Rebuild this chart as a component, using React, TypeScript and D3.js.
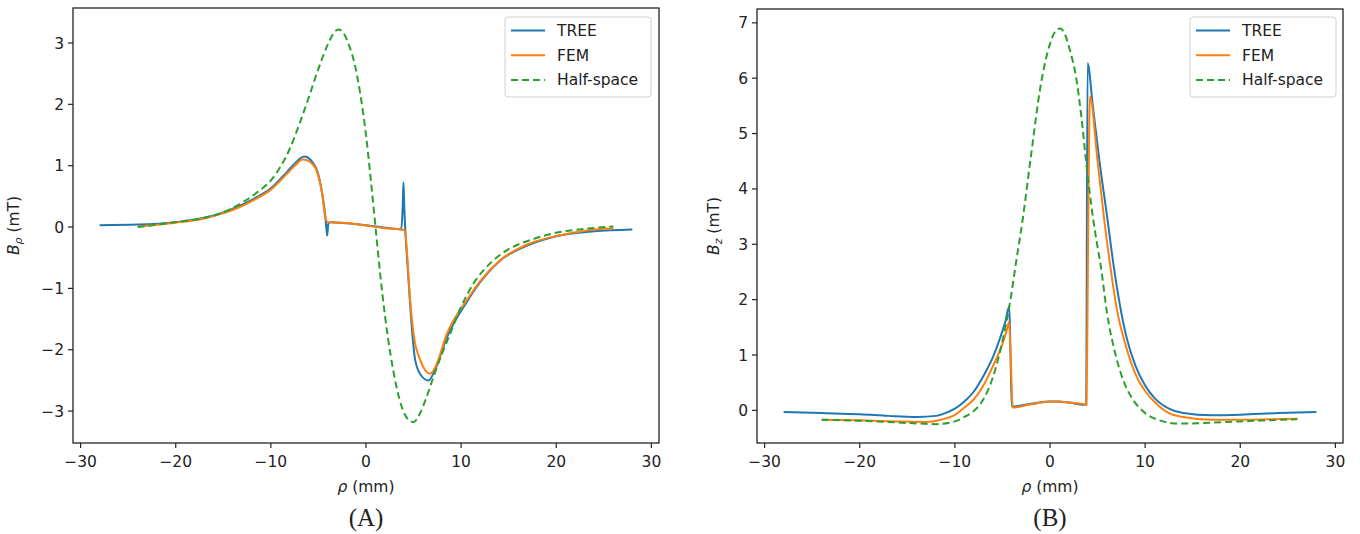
import React from "react";
import * as d3 from "d3";

// ---------- Data ----------
const xTicks = [-30, -20, -10, 0, 10, 20, 30];
const yTicksA = [-3, -2, -1, 0, 1, 2, 3];
const yTicksB = [0, 1, 2, 3, 4, 5, 6, 7];
const seriesNames = ["TREE", "FEM", "Half-space"];

// Panel A: B_rho (mT) vs rho (mm)
const treeA_x = [-28, -24, -20, -17, -15.3, -13.5, -11.8, -10, -8.3, -7.4, -6.9, -6.5, -6.1, -5.6, -5.14, -4.61, -4.27, -4.15, -4.07, -3.98, -3.8, -2, 0, 2, 3.7, 3.85, 3.94, 4.03, 4.15, 4.4, 4.7, 5.17, 5.8, 6.57, 7.2, 8.5, 10.6, 12, 14, 17, 20, 24, 28];
const treeA_y = [0.03, 0.04, 0.08, 0.15, 0.22, 0.33, 0.46, 0.63, 0.9, 1.05, 1.12, 1.15, 1.13, 1.05, 0.92, 0.55, 0.16, -0.05, -0.14, 0.04, 0.08, 0.06, 0.03, -0.01, -0.04, 0.3, 0.73, 0.3, -0.1, -0.7, -1.4, -2.17, -2.42, -2.5, -2.35, -1.8, -1.22, -0.9, -0.56, -0.3, -0.15, -0.07, -0.04];

const femA_x = [-24, -20, -17, -15.3, -13.5, -11.8, -10, -8.3, -7.4, -6.7, -6.2, -5.6, -5.14, -4.61, -4.27, -4.0, -3.74, -2, 0, 2, 3.77, 4.1, 4.3, 4.64, 5.0, 5.7, 6.2, 6.74, 7.3, 8.5, 10.6, 12, 14.1, 17, 20.4, 23, 26];
const femA_y = [0.01, 0.07, 0.14, 0.21, 0.31, 0.44, 0.61, 0.87, 1.01, 1.1, 1.09, 1.02, 0.9, 0.54, 0.16, 0.08, 0.08, 0.065, 0.025, -0.02, -0.04, -0.06, -0.4, -1.19, -1.74, -2.17, -2.33, -2.39, -2.28, -1.74, -1.19, -0.88, -0.54, -0.28, -0.135, -0.06, -0.02];

const halfA_x = [-24, -20, -17, -15, -13, -11.5, -10, -9, -8, -7, -6, -5, -4, -3.4, -2.9, -2.4, -1.8, -1.2, -0.6, 0, 0.5, 1.0, 1.5, 2.0, 2.6, 3.2, 3.8, 4.4, 5.0, 5.6, 6.3, 7.1, 8, 8.84, 10, 11.3, 13, 14.8, 17.5, 20.4, 23, 26];
const halfA_y = [0, 0.08, 0.15, 0.24, 0.4, 0.56, 0.76, 0.98, 1.28, 1.68, 2.12, 2.58, 2.98, 3.16, 3.22, 3.17, 2.97, 2.66, 2.17, 1.5, 0.78, 0, -0.78, -1.45, -2.1, -2.6, -2.95, -3.13, -3.18, -3.06, -2.8, -2.44, -2.06, -1.74, -1.3, -0.92, -0.6, -0.38, -0.2, -0.08, -0.03, 0.01];

// Panel B: B_z (mT) vs rho (mm)
const treeB_x = [-28, -24, -20, -17, -14, -12, -11, -10, -9, -8, -7, -6, -5.3, -4.7, -4.28, -4.15, -4.02, -2, 0, 1, 2, 3.6, 3.8, 3.95, 4.5, 5.2, 6.05, 6.7, 7.3, 8, 9, 10, 11, 12.5, 14, 17, 20, 24, 28];
const treeB_y = [-0.03, -0.05, -0.07, -0.1, -0.12, -0.1, -0.05, 0.03, 0.16, 0.34, 0.62, 0.96, 1.28, 1.6, 1.88, 1.0, 0.07, 0.12, 0.16, 0.16, 0.14, 0.1, 0.1, 6.27, 5.5, 4.5, 3.44, 2.6, 1.95, 1.35, 0.8, 0.45, 0.22, 0.03, -0.05, -0.09, -0.08, -0.05, -0.03];

const femB_x = [-24, -20, -16, -13, -11.5, -10, -9, -8, -7, -6, -5, -4.45, -4.3, -4.1, -3.93, -2, 0.28, 2, 3.6, 3.85, 4.0, 4.2, 5, 5.7, 6.35, 7, 8, 9, 10, 11, 12.5, 14, 17, 20, 23, 26];
const femB_y = [-0.17, -0.18, -0.2, -0.21, -0.17, -0.08, 0.05, 0.2, 0.45, 0.8, 1.2, 1.5, 1.6, 0.8, 0.05, 0.11, 0.16, 0.14, 0.11, 0.1, 3.0, 5.67, 4.5, 3.44, 2.59, 1.85, 1.15, 0.65, 0.35, 0.15, -0.05, -0.12, -0.17, -0.17, -0.16, -0.15];

const halfB_x = [-24, -20, -16, -13.6, -12, -10, -9, -8, -7, -6, -5, -4.3, -3.5, -2.88, -2, -1, 0, 0.5, 1.08, 1.6, 2.1, 2.73, 3.3, 3.78, 4.5, 5.0, 5.35, 6.0, 6.9, 7.8, 8.7, 10, 11.5, 13.6, 16, 20, 23, 26];
const halfB_y = [-0.17, -0.19, -0.22, -0.24, -0.25, -0.2, -0.12, -0.01, 0.2, 0.6, 1.25, 1.85, 2.75, 3.44, 4.6, 5.85, 6.62, 6.83, 6.9, 6.78, 6.5, 6.03, 5.3, 4.52, 3.5, 2.95, 2.59, 1.75, 1.0, 0.5, 0.2, -0.05, -0.18, -0.24, -0.23, -0.2, -0.18, -0.16];

// ---------- Styles ----------
const COLORS = ["#1f77b4", "#ff7f0e", "#2ca02c"];
const DASHES = [null, null, "7,4"];
const FONT = "DejaVu Sans, sans-serif";
const FS = 15.5;
const W = 1360;
const H = 534;

type Series = { xs: number[]; ys: number[] };

const zip = (xs: number[], ys: number[]) => xs.map((x, i) => [x, ys[i]] as [number, number]);

function fmt(v: number) {
  return v < 0 ? "\u2212" + Math.abs(v) : String(v);
}

function Panel(props: {
  left: number;
  right: number;
  top: number;
  bottom: number;
  yDomain: [number, number];
  yTicks: number[];
  series: Series[];
  sub: string;
  yLabelX: number;
  legendX: number;
  caption: string;
}) {
  const { left, right, top, bottom, yDomain, yTicks, series, sub, yLabelX, legendX, caption } = props;
  const x = d3.scaleLinear().domain([-30.8, 30.8]).range([left, right]);
  const y = d3.scaleLinear().domain(yDomain).range([bottom, top]);
  const line = d3
    .line<[number, number]>()
    .x((d) => x(d[0]))
    .y((d) => y(d[1]))
    .curve(d3.curveMonotoneX);
  const cx = (left + right) / 2;
  const cy = (top + bottom) / 2;
  const legY = 17;
  return (
    <g>
      <defs>
        <clipPath id={"clip" + caption}>
          <rect x={left} y={top} width={right - left} height={bottom - top} />
        </clipPath>
      </defs>
      <g clipPath={`url(#clip${caption})`}>
        {series.map((s, i) => (
          <path
            key={i}
            d={line(zip(s.xs, s.ys)) || ""}
            fill="none"
            stroke={COLORS[i]}
            strokeWidth={2}
            strokeDasharray={DASHES[i] || undefined}
            strokeLinejoin="round"
          />
        ))}
      </g>
      <rect x={left} y={top} width={right - left} height={bottom - top} fill="none" stroke="#222" strokeWidth={1.3} />
      {xTicks.map((t) => (
        <g key={"x" + t}>
          <line x1={x(t)} x2={x(t)} y1={bottom} y2={bottom + 5} stroke="#222" strokeWidth={1.2} />
          <text x={x(t)} y={bottom + 24} textAnchor="middle" fontFamily={FONT} fontSize={FS} fill="#222">
            {fmt(t)}
          </text>
        </g>
      ))}
      {yTicks.map((t) => (
        <g key={"y" + t}>
          <line x1={left - 5} x2={left} y1={y(t)} y2={y(t)} stroke="#222" strokeWidth={1.2} />
          <text x={left - 9} y={y(t)} dy="0.36em" textAnchor="end" fontFamily={FONT} fontSize={FS} fill="#222">
            {fmt(t)}
          </text>
        </g>
      ))}
      <text x={cx} y={bottom + 49} textAnchor="middle" fontFamily={FONT} fontSize={FS} fill="#222">
        <tspan fontStyle="italic">ρ</tspan> (mm)
      </text>
      <text
        transform={`translate(${yLabelX},${cy}) rotate(-90)`}
        textAnchor="middle"
        fontFamily={FONT}
        fontSize={FS}
        fill="#222"
      >
        <tspan fontStyle="italic">B</tspan>
        <tspan fontStyle="italic" fontSize={11} dy={3}>
          {sub}
        </tspan>
        <tspan dy={-3}> (mT)</tspan>
      </text>
      <g>
        <rect x={legendX} y={legY} width={146} height={80} rx={3} fill="white" fillOpacity={0.85} stroke="#d0d0d0" strokeWidth={1} />
        {seriesNames.map((n, i) => {
          const ry = legY + 13.5 + i * 24.7;
          return (
            <g key={n}>
              <line
                x1={legendX + 6}
                x2={legendX + 40}
                y1={ry}
                y2={ry}
                stroke={COLORS[i]}
                strokeWidth={2}
                strokeDasharray={DASHES[i] || undefined}
              />
              <text x={legendX + 52} y={ry} dy="0.36em" fontFamily={FONT} fontSize={FS} fill="#222">
                {n}
              </text>
            </g>
          );
        })}
      </g>
      <text x={cx} y={526} textAnchor="middle" fontFamily="Liberation Serif, Times New Roman, serif" fontSize={25} fill="#222">
        {caption}
      </text>
    </g>
  );
}

export default function App() {
  return (
    <svg width={W} height={H} style={{ position: "absolute", left: 0, top: 0, background: "white" }}>
      <rect x={0} y={0} width={W} height={H} fill="white" />
      <Panel
        left={73}
        right={659}
        top={8}
        bottom={443}
        yDomain={[-3.52, 3.57]}
        yTicks={yTicksA}
        series={[
          { xs: treeA_x, ys: treeA_y },
          { xs: femA_x, ys: femA_y },
          { xs: halfA_x, ys: halfA_y },
        ]}
        sub="ρ"
        yLabelX={19}
        legendX={505}
        caption="(A)"
      />
      <Panel
        left={757}
        right={1343}
        top={9}
        bottom={443}
        yDomain={[-0.59, 7.25]}
        yTicks={yTicksB}
        series={[
          { xs: treeB_x, ys: treeB_y },
          { xs: femB_x, ys: femB_y },
          { xs: halfB_x, ys: halfB_y },
        ]}
        sub="z"
        yLabelX={719}
        legendX={1190}
        caption="(B)"
      />
    </svg>
  );
}
